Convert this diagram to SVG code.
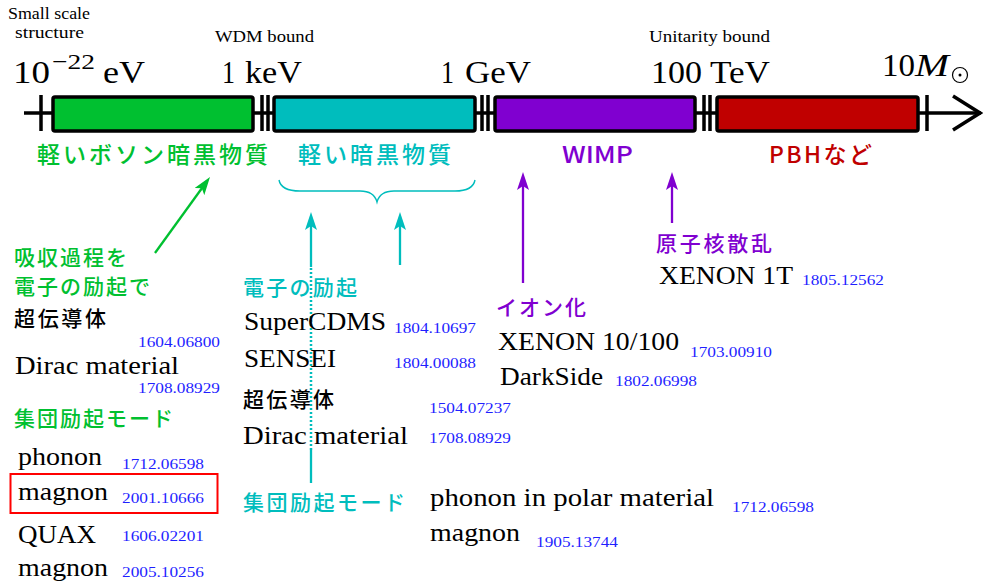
<svg xmlns="http://www.w3.org/2000/svg" width="983" height="582" viewBox="0 0 983 582">
<style>
.serif{font-family:"Liberation Serif","DejaVu Serif",serif;fill:#000}
.sm{font-size:16px}
.big{font-size:32px}
.item{font-size:25px}
.ref{font-family:"Liberation Serif","DejaVu Serif",serif;font-size:15.5px;fill:#1f1fff}
.jp{font-family:"Noto Sans CJK JP","Noto Sans",sans-serif;font-size:21px;font-weight:500}
.cat{font-family:"Noto Sans CJK JP","Noto Sans",sans-serif;font-size:23px;font-weight:500}
.green{fill:#00c030}
.cyan{fill:#00bdbd}
.purple{fill:#8000d0}
.red{fill:#c00000}
.black{fill:#000}
.box{stroke:#000;stroke-width:3.5}
.tick{stroke:#000;stroke-width:3.5}
.arr{stroke-width:2.3;fill:none}
</style>
<defs>
<marker id="hg" viewBox="0 0 18 12" refX="10" refY="6" markerWidth="18" markerHeight="12" markerUnits="userSpaceOnUse" orient="auto"><path d="M0,0 L18,6 L0,12 L4,6 Z" fill="#00c030"/></marker>
<marker id="hc" viewBox="0 0 18 12" refX="10" refY="6" markerWidth="18" markerHeight="12" markerUnits="userSpaceOnUse" orient="auto"><path d="M0,0 L18,6 L0,12 L4,6 Z" fill="#00bdbd"/></marker>
<marker id="hp" viewBox="0 0 18 12" refX="10" refY="6" markerWidth="18" markerHeight="12" markerUnits="userSpaceOnUse" orient="auto"><path d="M0,0 L18,6 L0,12 L4,6 Z" fill="#8000d0"/></marker>
</defs>

<g id="axis">
<line x1="24" y1="113" x2="981" y2="113" stroke="#000" stroke-width="3.5"/>
<polyline points="953,96 980,113 953,130" fill="none" stroke="#000" stroke-width="3.5"/>
<line class="tick" x1="41" y1="95" x2="41" y2="131"/>
<line class="tick" x1="262" y1="95" x2="262" y2="131"/>
<line class="tick" x1="268" y1="95" x2="268" y2="131"/>
<line class="tick" x1="482" y1="95" x2="482" y2="131"/>
<line class="tick" x1="488" y1="95" x2="488" y2="131"/>
<line class="tick" x1="704" y1="95" x2="704" y2="131"/>
<line class="tick" x1="710" y1="95" x2="710" y2="131"/>
<line class="tick" x1="927" y1="95" x2="927" y2="131"/>
</g>

<g id="box-light-boson">
<rect class="box" x="53" y="97" width="200" height="34" rx="2" fill="#00c030"/>
<text class="cat green" x="37" y="163" textLength="231">軽いボソン暗黒物質</text>
</g>
<g id="box-light-dm">
<rect class="box" x="274" y="97" width="201" height="34" rx="2" fill="#00bdbd"/>
<text class="cat cyan" x="298" y="163" textLength="153">軽い暗黒物質</text>
<path d="M279,180 Q281,191 300,191 L360,191 Q374,191 377,202 Q380,191 394,191 L455,191 Q473,191 475,180" fill="none" stroke="#00bdbd" stroke-width="1.4"/>
</g>
<g id="box-wimp">
<rect class="box" x="495" y="97" width="200" height="34" rx="2" fill="#8000d0"/>
<text class="cat purple" x="562" y="163" textLength="71" lengthAdjust="spacingAndGlyphs">WIMP</text>
</g>
<g id="box-pbh">
<rect class="box" x="717" y="97" width="201" height="34" rx="2" fill="#c00000"/>
<text class="cat red" x="769" y="163" textLength="103">PBHなど</text>
</g>

<g id="scale-labels">
<text class="serif sm" x="8" y="19" textLength="82" lengthAdjust="spacingAndGlyphs">Small scale</text>
<text class="serif sm" x="15" y="38" textLength="69" lengthAdjust="spacingAndGlyphs">structure</text>
<text class="serif sm" x="215" y="42" textLength="99" lengthAdjust="spacingAndGlyphs">WDM bound</text>
<text class="serif sm" x="649" y="42" textLength="121" lengthAdjust="spacingAndGlyphs">Unitarity bound</text>
<text class="serif big" x="13" y="83" textLength="37" lengthAdjust="spacingAndGlyphs">10</text>
<text class="serif" font-size="22" x="52" y="69" textLength="43" lengthAdjust="spacingAndGlyphs">−22</text>
<text class="serif big" x="103" y="83" textLength="42" lengthAdjust="spacingAndGlyphs">eV</text>
<text class="serif big" x="222" y="83" textLength="13" lengthAdjust="spacingAndGlyphs">1</text>
<text class="serif big" x="245" y="83" textLength="57" lengthAdjust="spacingAndGlyphs">keV</text>
<text class="serif big" x="441" y="83" textLength="13" lengthAdjust="spacingAndGlyphs">1</text>
<text class="serif big" x="465" y="83" textLength="66" lengthAdjust="spacingAndGlyphs">GeV</text>
<text class="serif big" x="651" y="83" textLength="51" lengthAdjust="spacingAndGlyphs">100</text>
<text class="serif big" x="710" y="83" textLength="60" lengthAdjust="spacingAndGlyphs">TeV</text>
<text class="serif big" x="882" y="76" textLength="33" lengthAdjust="spacingAndGlyphs">10</text>
<text class="serif big" x="915" y="76" font-style="italic" textLength="34" lengthAdjust="spacingAndGlyphs">M</text>
<circle cx="960" cy="75" r="7.5" fill="none" stroke="#000" stroke-width="1.2"/>
<circle cx="960" cy="75" r="1.5" fill="#000"/>
</g>

<g id="connectors">
<line class="arr" x1="155" y1="253" x2="205.3" y2="183.5" stroke="#00c030" marker-end="url(#hg)"/>
<line class="arr" x1="311" y1="483" x2="311" y2="450" stroke="#00bdbd"/>
<line x1="311" y1="450" x2="311" y2="267" stroke="#00bdbd" stroke-width="2.5" stroke-dasharray="2 2"/>
<line class="arr" x1="311" y1="267" x2="311" y2="220" stroke="#00bdbd" marker-end="url(#hc)"/>
<line class="arr" x1="400" y1="265" x2="400" y2="220" stroke="#00bdbd" marker-end="url(#hc)"/>
<line class="arr" x1="523" y1="283" x2="523" y2="180" stroke="#8000d0" marker-end="url(#hp)"/>
<line class="arr" x1="672" y1="223" x2="672" y2="180" stroke="#8000d0" marker-end="url(#hp)"/>
</g>

<g id="absorption">
<text class="jp green" x="14" y="265" textLength="113">吸収過程を</text>
<text class="jp green" x="14" y="294" textLength="136">電子の励起で</text>
<text class="jp black" x="14" y="326" textLength="92">超伝導体</text>
<text class="ref" x="138" y="347" textLength="82" lengthAdjust="spacingAndGlyphs">1604.06800</text>
<text class="serif item" x="15" y="374" textLength="164" lengthAdjust="spacingAndGlyphs">Dirac material</text>
<text class="ref" x="138" y="393" textLength="82" lengthAdjust="spacingAndGlyphs">1708.08929</text>
<text class="jp green" x="14" y="426" textLength="159">集団励起モード</text>
<text class="serif item" x="18" y="465" textLength="84" lengthAdjust="spacingAndGlyphs">phonon</text>
<text class="ref" x="122" y="469" textLength="82" lengthAdjust="spacingAndGlyphs">1712.06598</text>
<rect x="10.5" y="474" width="207" height="39" fill="none" stroke="#ff0000" stroke-width="2"/>
<text class="serif item" x="18" y="500" textLength="90" lengthAdjust="spacingAndGlyphs">magnon</text>
<text class="ref" x="122" y="503" textLength="82" lengthAdjust="spacingAndGlyphs">2001.10666</text>
<text class="serif item" x="18" y="543" textLength="78" lengthAdjust="spacingAndGlyphs">QUAX</text>
<text class="ref" x="122" y="541" textLength="82" lengthAdjust="spacingAndGlyphs">1606.02201</text>
<text class="serif item" x="18" y="576" textLength="90" lengthAdjust="spacingAndGlyphs">magnon</text>
<text class="ref" x="122" y="577" textLength="82" lengthAdjust="spacingAndGlyphs">2005.10256</text>
</g>

<g id="electron-excitation">
<text class="jp cyan" x="243" y="295" textLength="114">電子の励起</text>
<text class="serif item" x="244" y="330" textLength="142" lengthAdjust="spacingAndGlyphs">SuperCDMS</text>
<text class="ref" x="394" y="333" textLength="82" lengthAdjust="spacingAndGlyphs">1804.10697</text>
<text class="serif item" x="244" y="367" textLength="92" lengthAdjust="spacingAndGlyphs">SENSEI</text>
<text class="ref" x="394" y="368" textLength="82" lengthAdjust="spacingAndGlyphs">1804.00088</text>
<text class="jp black" x="243" y="407" textLength="91">超伝導体</text>
<text class="ref" x="429" y="413" textLength="82" lengthAdjust="spacingAndGlyphs">1504.07237</text>
<text class="serif item" x="243" y="444" textLength="165" lengthAdjust="spacingAndGlyphs">Dirac material</text>
<text class="ref" x="429" y="443" textLength="82" lengthAdjust="spacingAndGlyphs">1708.08929</text>
<text class="jp cyan" x="243" y="510" textLength="162">集団励起モード</text>
<text class="serif item" x="430" y="506" textLength="284" lengthAdjust="spacingAndGlyphs">phonon in polar material</text>
<text class="ref" x="732" y="512" textLength="82" lengthAdjust="spacingAndGlyphs">1712.06598</text>
<text class="serif item" x="430" y="541" textLength="90" lengthAdjust="spacingAndGlyphs">magnon</text>
<text class="ref" x="536" y="547" textLength="82" lengthAdjust="spacingAndGlyphs">1905.13744</text>
</g>

<g id="ionization">
<text class="jp purple" x="496" y="315" textLength="90">イオン化</text>
<text class="serif item" x="498" y="350" textLength="181" lengthAdjust="spacingAndGlyphs">XENON 10/100</text>
<text class="ref" x="690" y="357" textLength="82" lengthAdjust="spacingAndGlyphs">1703.00910</text>
<text class="serif item" x="500" y="385" textLength="103" lengthAdjust="spacingAndGlyphs">DarkSide</text>
<text class="ref" x="615" y="386" textLength="82" lengthAdjust="spacingAndGlyphs">1802.06998</text>
</g>

<g id="nuclear-scattering">
<text class="jp purple" x="656" y="251" textLength="116">原子核散乱</text>
<text class="serif item" x="659" y="284" textLength="134" lengthAdjust="spacingAndGlyphs">XENON 1T</text>
<text class="ref" x="802" y="285" textLength="82" lengthAdjust="spacingAndGlyphs">1805.12562</text>
</g>
</svg>
